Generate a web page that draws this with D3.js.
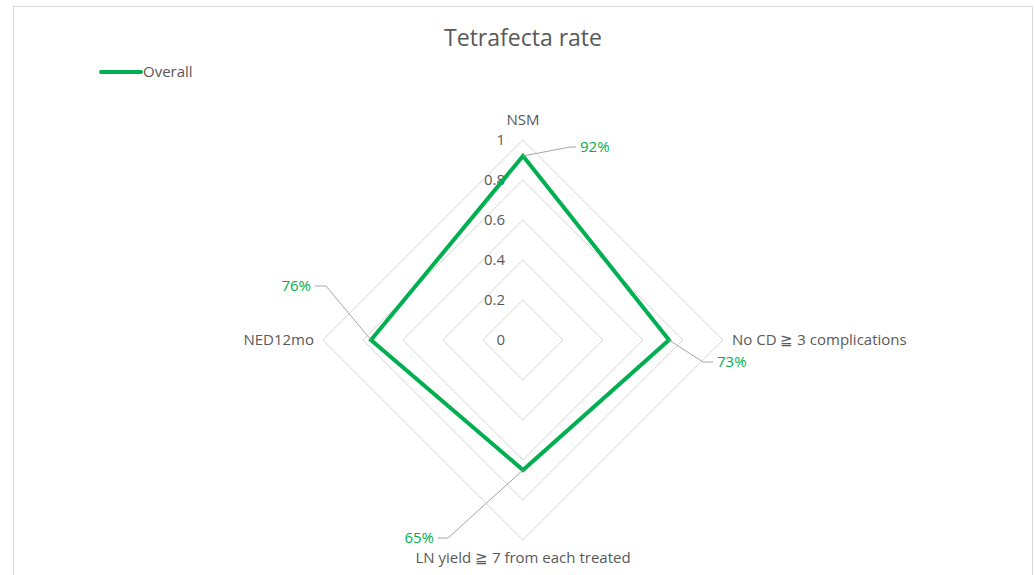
<!DOCTYPE html>
<html>
<head>
<meta charset="utf-8">
<script src="https://cdn.jsdelivr.net/npm/d3@7"></script>
<style>
  body { margin: 0; background: #fff; }
  svg { font-family: "Open Sans", "Noto Sans", sans-serif; }
</style>
</head>
<body>
<svg id="chart" width="1035" height="575"></svg>
<script>
// データ
const axes = ['NSM', 'No CD ≧ 3 complications', 'LN yield ≧ 7 from each treated', 'NED12mo'];
const overall = [0.92, 0.73, 0.65, 0.76];
const ticks = [0, 0.2, 0.4, 0.6, 0.8, 1];
const tickLabels = ['0', '0.2', '0.4', '0.6', '0.8', '1'];
const seriesName = 'Overall';

const width = 1035, height = 575;
const cx = 523, cy = 340;
const green = '#00b050', textColor = '#595959', gridColor = '#d9d9d9';

const svg = d3.select('#chart');

// 枠線
svg.append('rect')
  .attr('x', 13.5).attr('y', 6.5)
  .attr('width', 1019).attr('height', 600)
  .attr('fill', 'none').attr('stroke', '#d9d9d9').attr('stroke-width', 1);

// タイトル
svg.append('text')
  .attr('x', 523).attr('y', 46)
  .attr('text-anchor', 'middle')
  .attr('font-size', 23).attr('fill', textColor)
  .text('Tetrafecta rate');

// 凡例
svg.append('line')
  .attr('x1', 101).attr('x2', 141).attr('y1', 72).attr('y2', 72)
  .attr('stroke', green).attr('stroke-width', 4).attr('stroke-linecap', 'round');
svg.append('text')
  .attr('x', 143).attr('y', 77)
  .attr('font-size', 15).attr('fill', textColor)
  .text(seriesName);

const r = d3.scaleLinear().domain([0, 1]).range([0, 200]);
const angle = i => i * Math.PI / 2; // 上から時計回り
const pt = (i, v) => [cx + r(v) * Math.sin(angle(i)), cy - r(v) * Math.cos(angle(i))];

const g = svg.append('g');

// グリッド
const gridLine = d3.line();
ticks.filter(t => t > 0).forEach(t => {
  const pts = axes.map((a, i) => pt(i, t));
  g.append('path')
    .attr('d', gridLine(pts) + 'Z')
    .attr('fill', 'none').attr('stroke', gridColor).attr('stroke-width', 1);
});

// 目盛ラベル
g.selectAll('.tick')
  .data(ticks)
  .join('text')
  .attr('x', cx - 18)
  .attr('y', t => cy - r(t) + 5)
  .attr('text-anchor', 'end')
  .attr('font-size', 15).attr('fill', textColor)
  .text((t, i) => tickLabels[i]);

// 軸ラベル
const axisLabelPos = [
  {dx: 0, dy: -15, anchor: 'middle'},
  {dx: 9, dy: 5, anchor: 'start'},
  {dx: 0, dy: 23, anchor: 'middle'},
  {dx: -9, dy: 5, anchor: 'end'}
];
g.selectAll('.axislabel')
  .data(axes)
  .join('text')
  .attr('x', (d, i) => pt(i, 1)[0] + axisLabelPos[i].dx)
  .attr('y', (d, i) => pt(i, 1)[1] + axisLabelPos[i].dy)
  .attr('text-anchor', (d, i) => axisLabelPos[i].anchor)
  .attr('font-size', 15).attr('fill', textColor)
  .text(d => d);

// 系列
const pts = overall.map((v, i) => pt(i, v));
g.append('path')
  .attr('d', d3.line()(pts) + 'Z')
  .attr('fill', 'none')
  .attr('stroke', green).attr('stroke-width', 4)
  .attr('stroke-linejoin', 'miter');

// データラベル（引き出し線つき）
const labelOffsets = [
  {ex: 47, ey: -9, hx: 6, anchor: 'start'},
  {ex: 34, ey: 22, hx: 10, anchor: 'start'},
  {ex: -75, ey: 68, hx: -10, anchor: 'end'},
  {ex: -45, ey: -54, hx: -11, anchor: 'end'}
];
overall.forEach((v, i) => {
  const [x, y] = pts[i];
  const o = labelOffsets[i];
  const x1 = x + o.ex, y1 = y + o.ey, x2 = x1 + o.hx;
  g.append('path')
    .attr('d', d3.line()([[x, y], [x1, y1], [x2, y1]]))
    .attr('fill', 'none').attr('stroke', '#a6a6a6').attr('stroke-width', 1);
  g.append('text')
    .attr('x', x2 + (o.hx > 0 ? 4 : -4))
    .attr('y', y1 + 5)
    .attr('text-anchor', o.anchor)
    .attr('font-size', 15).attr('fill', green)
    .text(d3.format('.0%')(v));
});
</script>
</body>
</html>
